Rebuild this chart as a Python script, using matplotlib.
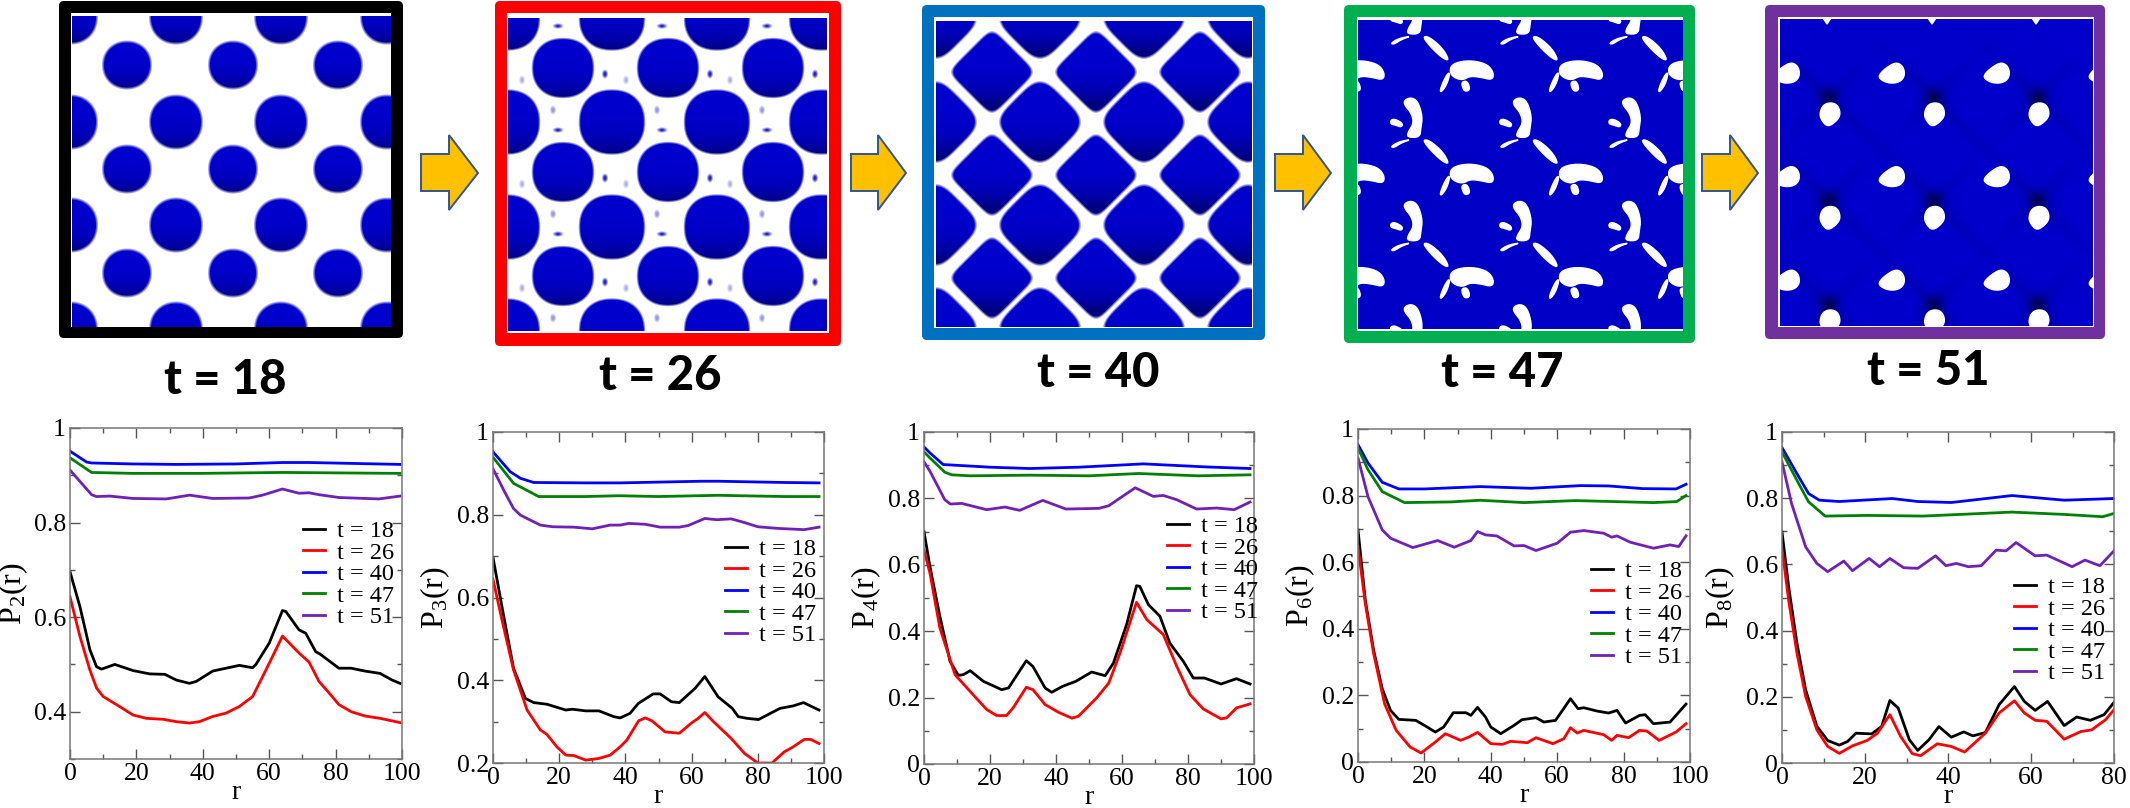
import matplotlib
matplotlib.use("Agg")
import matplotlib.pyplot as plt
from matplotlib.patches import FancyBboxPatch, Polygon, Rectangle
from matplotlib.ticker import MultipleLocator, FormatStrFormatter
import numpy as np

plt.rcParams['font.family'] = ['Liberation Serif', 'DejaVu Serif']
plt.rcParams['mathtext.fontset'] = 'custom'
plt.rcParams['mathtext.rm'] = 'Liberation Serif'

W, H = 2130, 808

times = ['t = 18', 't = 26', 't = 40', 't = 47', 't = 51']
line_colors = ['#000000', '#ff0000', '#0000ff', '#008000', '#7020b8']

# ---- P2(r)
p2_r_18 = [0, 3, 6, 8, 9.5, 13.5, 19, 24, 28.6, 32, 36, 38, 43, 47, 51, 55, 56, 60, 64, 65, 69, 71, 74, 75.3, 81, 84.7, 88.8, 93.4, 97, 99.4]
p2_v_18 = [.696, .622, .531, .495, .49, .50, .487, .48, .479, .467, .46, .464, .486, .492, .498, .493, .5, .545, .614, .612, .573, .566, .527, .522, .492, .492, .486, .481, .467, .46]
p2_r_26 = [0, 3, 6, 8, 10, 14, 19, 23, 28, 32, 36, 39, 43, 47, 51, 55, 59, 64, 69, 72, 75, 78, 81, 84.7, 88.8, 93.4, 99.4]
p2_v_26 = [.643, .559, .488, .45, .432, .415, .393, .386, .384, .379, .376, .379, .39, .397, .411, .432, .488, .56, .524, .505, .464, .44, .415, .40, .391, .386, .377]
p2_r_40 = [0, 5, 6.5, 19, 32, 50, 64, 72, 99.4]
p2_v_40 = [.951, .928, .926, .924, .923, .924, .927, .927, .923]
p2_r_47 = [0, 6.5, 19, 39, 64, 99.4]
p2_v_47 = [.937, .906, .904, .904, .906, .904]
p2_r_51 = [0, 6.5, 8, 12, 19, 29, 36, 43, 54, 58, 64, 69, 72, 75, 81, 93, 99.4]
p2_v_51 = [.911, .859, .855, .856, .851, .85, .858, .851, .852, .858, .871, .862, .863, .859, .853, .85, .856]

# ---- P3(r)
p3_r_18 = [0, 2.7, 6.2, 9.8, 12.3, 16.3, 22, 24, 28, 32, 36.5, 38.4, 41.4, 43.9, 48.4, 50.5, 53.9, 56.3, 61, 64, 68, 72.3, 74.1, 76.7, 80.2, 86.7, 90.7, 93.8, 98.5]
p3_v_18 = [.697, .578, .429, .356, .346, .342, .328, .33, .326, .326, .312, .309, .32, .344, .367, .367, .348, .346, .38, .409, .36, .332, .312, .308, .305, .332, .338, .346, .328]
p3_r_26 = [0, 2.7, 6.2, 10.3, 14.3, 16.3, 19.3, 22, 24.4, 28, 32, 35.4, 38.4, 40.4, 44, 46, 48, 52, 56.3, 60, 62, 64, 66.6, 72, 76, 80, 84.3, 88, 90.7, 94, 96, 98.5]
p3_v_26 = [.644, .546, .425, .328, .28, .269, .239, .219, .218, .207, .211, .219, .239, .255, .302, .309, .302, .275, .272, .297, .308, .322, .30, .259, .223, .2, .2, .227, .239, .257, .257, .247]
p3_r_40 = [0, 5.2, 8.3, 12.3, 28, 38.4, 63, 68, 88, 98.5]
p3_v_40 = [.952, .904, .888, .878, .877, .877, .881, .881, .878, .877]
p3_r_47 = [0, 6.2, 13.8, 28, 38, 50, 68, 88, 98.5]
p3_v_47 = [.939, .876, .844, .844, .846, .844, .847, .844, .844]
p3_r_51 = [0, 3.2, 6.2, 8.3, 14.3, 18, 24.4, 30, 35.4, 38.4, 41, 46, 50.5, 56.3, 59, 64, 67.6, 72, 75.6, 80, 86, 94, 98.5]
p3_v_51 = [.911, .86, .815, .799, .775, .771, .77, .766, .775, .775, .779, .777, .77, .77, .774, .791, .788, .79, .782, .771, .767, .764, .77]

# ---- P4(r)
p4_r_18 = [0, 1.8, 4.8, 7.9, 10.4, 11.9, 14, 18, 23.5, 25.6, 31, 33, 36.7, 38.7, 42, 46, 50.8, 54.9, 57.4, 61.4, 64.4, 65.4, 68, 71.5, 74.5, 78.6, 81.6, 85, 90, 94.7, 98.8]
p4_v_18 = [.70, .595, .445, .309, .267, .269, .281, .249, .224, .229, .311, .294, .229, .216, .234, .249, .277, .266, .304, .42, .537, .535, .48, .445, .364, .309, .259, .259, .241, .257, .241]
p4_r_26 = [0, 1.8, 4.8, 9.4, 14.4, 19, 22, 25, 27, 31, 33, 36.7, 40.7, 44.8, 46.8, 52.3, 56, 59.4, 64.4, 67.5, 72.5, 76.6, 80.6, 84.6, 90, 91.7, 94.7, 98.8]
p4_v_26 = [.645, .575, .41, .269, .214, .164, .146, .146, .169, .231, .224, .179, .156, .138, .144, .199, .244, .334, .487, .435, .39, .294, .209, .166, .136, .139, .169, .181]
p4_r_40 = [0, 1.8, 5.8, 20, 32, 47, 66.5, 85, 98.8]
p4_v_40 = [.955, .937, .902, .894, .89, .894, .904, .895, .89]
p4_r_47 = [0, 1.8, 6.3, 8.4, 14, 32, 50, 65, 83, 98.8]
p4_v_47 = [.94, .922, .879, .871, .868, .87, .868, .875, .868, .871]
p4_r_51 = [0, 1.8, 6.3, 8, 11.4, 19, 24.5, 29, 36, 43, 53, 56, 64, 69.5, 72.5, 76.6, 82.6, 88.7, 94, 98.8]
p4_v_51 = [.91, .882, .796, .783, .785, .766, .774, .764, .794, .768, .77, .778, .832, .806, .809, .796, .768, .771, .766, .789]

# ---- P6(r)
p6_r_18 = [0, 2.2, 4.7, 7.3, 9.8, 12.3, 17.4, 20, 23.3, 25.8, 28.7, 32.5, 34, 36, 38.4, 40, 43, 47, 49.4, 53.6, 56, 59.5, 64, 66.3, 68, 72, 75.5, 78, 80.6, 84.8, 86.5, 89, 94, 98.8]
p6_v_18 = [.697, .486, .336, .22, .155, .128, .125, .11, .09, .105, .148, .148, .14, .164, .135, .105, .085, .11, .127, .133, .12, .125, .19, .16, .163, .153, .147, .155, .117, .14, .142, .115, .12, .174]
p6_r_26 = [0, 2.2, 4.7, 8, 11.5, 15.7, 19, 23.3, 26.3, 30.9, 33.4, 36, 40, 43.5, 46, 51, 53.6, 58.7, 62, 64, 66, 68, 74, 76.4, 78, 81.5, 84.8, 87, 90.7, 95.8, 98.8]
p6_v_26 = [.647, .476, .326, .175, .095, .045, .027, .06, .085, .065, .075, .089, .055, .053, .062, .058, .073, .055, .07, .103, .087, .095, .082, .065, .08, .073, .095, .093, .065, .09, .115]
p6_r_40 = [0, 3, 7.3, 12.3, 20, 36.8, 52, 67, 75.5, 85.7, 95.8, 98.8]
p6_v_40 = [.953, .898, .84, .82, .82, .827, .822, .83, .829, .821, .82, .834]
p6_r_47 = [0, 3, 7.3, 14, 28, 36.8, 50, 65.4, 89, 96, 98.8]
p6_v_47 = [.943, .878, .812, .779, .781, .786, .779, .785, .779, .782, .8]
p6_r_51 = [0, 3, 7.3, 9.8, 16.5, 24, 29, 34, 36, 38.4, 41.8, 47, 50, 53.6, 60, 64, 68, 74, 76.4, 78, 82, 89, 94, 96.6, 98.8]
p6_v_51 = [.913, .797, .697, .672, .644, .665, .645, .665, .692, .682, .679, .649, .65, .635, .657, .69, .695, .687, .675, .679, .66, .642, .652, .647, .679]

# ---- P8(r)
p8_r_18 = [0, 1.6, 3.6, 5.7, 8.4, 11, 13.8, 15.8, 17.8, 21.6, 24, 26, 28, 30.7, 32.7, 35.4, 37.8, 40.8, 43.8, 46, 49, 52.3, 56, 58.4, 61, 64, 68, 71, 74.3, 77.6, 80]
p8_v_18 = [.698, .533, .362, .221, .111, .068, .054, .065, .09, .088, .11, .189, .166, .07, .038, .07, .11, .078, .094, .082, .092, .176, .231, .186, .159, .186, .113, .139, .129, .146, .183]
p8_r_26 = [0, 1.6, 3.6, 5.7, 8.4, 11, 13.8, 17, 20.5, 23, 26, 28.6, 31.4, 33.4, 37.4, 40.8, 44, 49, 52.3, 56, 58.4, 61, 63.8, 68, 72, 74.6, 78, 80]
p8_v_26 = [.648, .492, .332, .201, .1, .05, .029, .052, .068, .09, .146, .08, .028, .022, .058, .05, .033, .09, .151, .188, .151, .129, .126, .072, .095, .1, .131, .161]
p8_r_40 = [0, 3.6, 6.4, 9, 13.8, 26.6, 32.7, 40.8, 55.4, 68, 80]
p8_v_40 = [.953, .874, .814, .794, .79, .799, .79, .787, .808, .794, .799]
p8_r_47 = [0, 3.6, 6.4, 10.4, 20.5, 34, 55.4, 68, 77.3, 80]
p8_v_47 = [.94, .854, .789, .746, .748, .746, .758, .751, .744, .754]
p8_r_51 = [0, 2.3, 5.7, 8.4, 11, 14.9, 17, 21, 23.5, 26, 29.3, 32.7, 37, 39.5, 42, 44.9, 48, 51.6, 54, 56.4, 61, 63.8, 69.9, 73, 76.6, 80]
p8_v_51 = [.91, .784, .653, .603, .578, .61, .581, .618, .593, .618, .59, .588, .626, .596, .603, .593, .596, .643, .641, .666, .626, .628, .593, .613, .596, .641]

# ---- snapshot lattices, figure pixels
snap1_big_x = [71, 176, 281, 387]
snap1_big_y = [17, 122, 225, 329]
snap1_small_x = [127, 233, 338]
snap1_small_y = [65, 169, 273]

snap2_big_x = [507, 612, 717, 822]
snap2_big_y = [18, 122, 227, 331]
snap2_small_x = [563, 668, 773]
snap2_small_y = [68, 172, 276]
snap2_spec_x = [500, 605, 710, 815, 522, 626, 730, 553, 657, 762, 558, 662, 767]
snap2_spec_s = [.85, .85, .85, .85, .3, .3, .3, .4, .4, .4, .85, .85, .85]
snap2_spec_y0 = [74, 74, 74, 74, 80, 80, 80, 6, 6, 6, 26, 26, 26]

snap3_big_x = [936, 1040, 1144, 1248]
snap3_big_y = [18, 122, 225, 328]
snap3_small_x = [992, 1096, 1200]
snap3_small_y = [72, 175, 278]

# white islands of the t = 47 snapshot, one repeat of the pattern
snap4_islands = [
    [(245, 300), (258, 292), (270, 305), (278, 350), (275, 385), (273, 412), (250, 412), (252, 395), (262, 370), (258, 340), (245, 315)],
    [(220, 360), (228, 357), (242, 370), (240, 382), (228, 375), (220, 372)],
    [(220, 130), (235, 115), (258, 108), (240, 118), (226, 133)],
    [(278, 110), (290, 110), (315, 145), (327, 182), (315, 175), (295, 145)],
    [(330, 195), (350, 183), (375, 183), (398, 195), (408, 220), (405, 240), (385, 232), (365, 228), (352, 240), (338, 235), (328, 220)],
    [(325, 218), (328, 222), (322, 255), (312, 277), (310, 270), (317, 240)],
    [(350, 245), (360, 243), (365, 270), (355, 275), (350, 258)],
]

# teardrops of the t = 51 snapshot
snap5_drop_a = [(1140, 187), (1152, 195), (1157, 215), (1155, 235), (1145, 248), (1128, 250), (1112, 238), (1110, 225), (1122, 205)]
snap5_drop_b = [(1022, 307), (1035, 315), (1040, 340), (1035, 360), (1017, 382), (1005, 360), (1002, 340), (1008, 315)]
snap5_notch_x = [1827, 1932, 2036]

# outer box, inner box, colour
frames = [
    ((59, 1, 403, 338), (71, 13, 391, 327), '#000000'),
    ((495, 1, 841, 346), (507, 13, 829, 333), '#ff0000'),
    ((922, 5, 1265, 340), (934, 17, 1253, 328), '#0070c0'),
    ((1344, 5, 1695, 343), (1357, 17, 1683, 331), '#00b050'),
    ((1765, 5, 2105, 339), (1778, 17, 2094, 327), '#7030a0'),
]
arrows = [(421, 449, 478), (851, 878, 906), (1275, 1303, 1331), (1702, 1730, 1758)]
title_pos = [(225, 380), (660, 376), (1098, 373), (1502, 373), (1928, 371)]


def field_grid(box):
    yy, xx = np.mgrid[box[1]:box[3], box[0]:box[2]]
    return xx + 0.5, yy + 0.5


def soft_blobs(box, blobs, edge=3.0):
    # blobs: (cx, cy, rx, ry, power, rotated, strength)
    xx, yy = field_grid(box)
    cover = np.zeros(xx.shape)
    shade = np.zeros(xx.shape)
    for cx, cy, rx, ry, n, rot, s in blobs:
        dx = (xx - cx) / rx
        dy = (yy - cy) / ry
        if rot:
            u, v = (dx + dy) / np.sqrt(2), (dx - dy) / np.sqrt(2)
        else:
            u, v = dx, dy
        level = (np.abs(u) ** n + np.abs(v) ** n) ** (1.0 / n)
        c = np.clip((1 - level) * min(rx, ry) / edge + 0.5, 0, 1) * s
        take = c > cover
        cover[take] = c[take]
        shade[take] = np.clip(dy[take] * 0.5 + 0.5, 0, 1)
    blue = (205 - 75 * shade ** 4) / 255.0
    img = np.ones(xx.shape + (3,))
    img[..., 0] = 1 - cover
    img[..., 1] = 1 - cover
    img[..., 2] = (1 - cover) + cover * blue
    return img


def chaikin(pts, rounds=2):
    pts = np.array(pts, dtype=float)
    for _ in range(rounds):
        nxt = np.roll(pts, -1, axis=0)
        pts = np.column_stack([0.75 * pts + 0.25 * nxt, 0.25 * pts + 0.75 * nxt]).reshape(-1, 2)
    return pts


def show_field(ax, box, img):
    ax.imshow(img, extent=(box[0], box[2], box[3], box[1]), aspect='auto',
              interpolation='bilinear', zorder=3)


def white_shape(ax, pts, box):
    p = Polygon(pts, closed=True, fc='white', ec='white', lw=1.0, zorder=4)
    ax.add_patch(p)
    p.set_clip_path(Rectangle((box[0], box[1]), box[2] - box[0], box[3] - box[1], transform=ax.transData))


fig = plt.figure(figsize=(W / 100, H / 100), dpi=100)
bg = fig.add_axes([0, 0, 1, 1])
bg.axis('off')

for outer, inner, col in frames:
    bg.add_patch(FancyBboxPatch((outer[0], outer[1]), outer[2] - outer[0], outer[3] - outer[1],
                                boxstyle='round,pad=0,rounding_size=5', fc=col, ec='none', zorder=1))
    bg.add_patch(Rectangle((inner[0], inner[1]), inner[2] - inner[0], inner[3] - inner[1],
                           fc='white', ec='none', zorder=2))

# t = 18
box1 = (72, 16, 391, 327)
blobs = []
for x in snap1_big_x:
    for y in snap1_big_y:
        blobs.append((x, y, 26, 26.5, 2.1, False, 1))
for x in snap1_small_x:
    for y in snap1_small_y:
        blobs.append((x, y, 24, 23.5, 2.1, False, 1))
show_field(bg, box1, soft_blobs(box1, blobs))

# t = 26
box2 = (508, 18, 827, 331)
blobs = []
for x in snap2_big_x:
    for y in snap2_big_y:
        blobs.append((x, y, 32.5, 32, 2.25, False, 1))
for x in snap2_small_x:
    for y in snap2_small_y:
        blobs.append((x, y, 30.5, 29.5, 2.2, False, 1))
for x, s, y0 in zip(snap2_spec_x, snap2_spec_s, snap2_spec_y0):
    for k in range(4):
        y = y0 + k * 104
        wide = y0 == 26
        blobs.append((x, y, 3.5 if wide else 2.2, 1.8 if wide else 3.2, 2, False, s))
show_field(bg, box2, soft_blobs(box2, blobs, edge=2.4))

# t = 40
box3 = (936, 21, 1252, 327)
blobs = []
for x in snap3_big_x:
    for y in snap3_big_y:
        blobs.append((x, y, 33.5, 33.5, 4.0, True, 1))
for x in snap3_small_x:
    for y in snap3_small_y:
        blobs.append((x, y, 31, 31, 7.0, True, 1))
show_field(bg, box3, soft_blobs(box3, blobs, edge=2.6))

# t = 47
box4 = (1358, 20, 1683, 329)
xx, yy = field_grid(box4)
cell = np.full(xx.shape, 9.0)
cell_shade = np.zeros(xx.shape)
for i in range(-1, 5):
    for j in range(-1, 5):
        for cx, cy in ((1356 + 109 * i, 13 + 103.5 * j), (1410 + 109 * i, 65 + 103.5 * j)):
            d = np.hypot(xx - cx, yy - cy) / 62.0
            take = d < cell
            cell[take] = d[take]
            cell_shade[take] = np.clip(((yy - cy) / 62.0)[take] * 0.5 + 0.5, 0, 1)
blue4 = (200 - 55 * np.clip(cell, 0, 1) ** 6 * cell_shade) / 255.0
show_field(bg, box4, np.dstack([np.zeros(xx.shape), np.zeros(xx.shape), blue4]))
for i in range(-1, 3):
    for j in range(-1, 3):
        for isl in snap4_islands:
            pts = chaikin(isl)
            px = 1270 + (pts[:, 0] + 199 * i) / 1.823
            py = (pts[:, 1] + 310 * j) / 3.0
            white_shape(bg, np.column_stack([px, py]), box4)

# t = 51
box5 = (1780, 19, 2093, 326)
xx, yy = field_grid(box5)
dark = np.zeros(xx.shape)
for cx in [1829, 1934, 2038]:
    for cy in [98, 201, 305]:
        dx, dy = xx - cx, yy - cy
        dark += 80 * np.exp(-(dx ** 2 + dy ** 2) / (2 * 7.0 ** 2))
        dark += 22 * np.exp(-((dx - dy) ** 2) / (2 * 6.0 ** 2) - ((dx + dy) ** 2) / (2 * 60.0 ** 2))
        dark += 15 * np.exp(-((dx + dy) ** 2) / (2 * 6.0 ** 2) - ((dx - dy) ** 2) / (2 * 45.0 ** 2))
blue5 = np.clip(203 - dark, 40, 255) / 255.0
show_field(bg, box5, np.dstack([np.zeros(xx.shape), np.zeros(xx.shape), blue5]))
drop_a = chaikin(snap5_drop_a)
drop_b = chaikin(snap5_drop_b)
drop_a_px = np.column_stack([1270 + drop_a[:, 0] / 1.823, drop_a[:, 1] / 3.0])
drop_b_px = np.column_stack([1270 + drop_b[:, 0] / 1.823, drop_b[:, 1] / 3.0])
for k in range(-1, 3):
    for j in range(3):
        white_shape(bg, drop_a_px + [105 * k, 103.5 * j], box5)
for k in range(3):
    for j in range(3):
        white_shape(bg, drop_b_px + [104.5 * k, 103.5 * j], box5)
for x in snap5_notch_x:
    white_shape(bg, [(x - 4, 18), (x + 4, 18), (x, 24)], (x - 5, 17, x + 5, 25))

for x0, xh, x1 in arrows:
    pts = [(x0, 154), (xh, 154), (xh, 135), (x1, 173), (xh, 210), (xh, 191), (x0, 191)]
    bg.add_patch(Polygon(pts, closed=True, fc='#ffc000', ec='#2f5597', lw=1.4, zorder=3))

for label, (x, y) in zip(times, title_pos):
    bg.text(x, y, label, ha='center', va='center', family=['Lato', 'DejaVu Sans'],
            fontweight='black', fontsize=34, color='black', zorder=5)

bg.set_xlim(0, W)
bg.set_ylim(H, 0)

# chart boxes in pixels: left, right, top, bottom
chart_boxes = [(70, 402, 428, 759), (493, 824, 432, 763), (924, 1254, 432, 764),
               (1358, 1690, 429, 762), (1782, 2114, 432, 763)]
chart_ylow = [0.3, 0.2, 0, 0, 0]
chart_xhigh = [100, 100, 100, 100, 80]
chart_names = ['2', '3', '4', '6', '8']
chart_rs = [[p2_r_18, p2_r_26, p2_r_40, p2_r_47, p2_r_51],
            [p3_r_18, p3_r_26, p3_r_40, p3_r_47, p3_r_51],
            [p4_r_18, p4_r_26, p4_r_40, p4_r_47, p4_r_51],
            [p6_r_18, p6_r_26, p6_r_40, p6_r_47, p6_r_51],
            [p8_r_18, p8_r_26, p8_r_40, p8_r_47, p8_r_51]]
chart_vs = [[p2_v_18, p2_v_26, p2_v_40, p2_v_47, p2_v_51],
            [p3_v_18, p3_v_26, p3_v_40, p3_v_47, p3_v_51],
            [p4_v_18, p4_v_26, p4_v_40, p4_v_47, p4_v_51],
            [p6_v_18, p6_v_26, p6_v_40, p6_v_47, p6_v_51],
            [p8_v_18, p8_v_26, p8_v_40, p8_v_47, p8_v_51]]
legend_xy = [(303, 520), (725, 538), (1167, 515), (1591, 560), (2014, 576)]
ylabel_x = [30, 452, 883, 1317, 1737]

for i in range(5):
    l, r, t, b = chart_boxes[i]
    ax = fig.add_axes([l / W, 1 - b / H, (r - l) / W, (b - t) / H])
    ax.patch.set_alpha(0)
    for rs, vs, col, lab in zip(chart_rs[i], chart_vs[i], line_colors, times):
        ax.plot(rs, vs, color=col, lw=2.0, label=lab)
    ax.set_xlim(0, chart_xhigh[i])
    ax.set_ylim(chart_ylow[i], 1)
    ax.xaxis.set_major_locator(MultipleLocator(20))
    ax.xaxis.set_minor_locator(MultipleLocator(10))
    ax.yaxis.set_major_locator(MultipleLocator(0.2))
    ax.yaxis.set_minor_locator(MultipleLocator(0.1))
    ax.yaxis.set_major_formatter(FormatStrFormatter('%g'))
    ax.tick_params(which='both', direction='in', top=True, right=True, color='#555555', width=1.0)
    ax.tick_params(which='major', length=7.2, labelsize=18.5, pad=3)
    ax.tick_params(which='minor', length=3.8)
    if i == 0:
        ax.set_yticks([0.4, 0.6, 0.8, 1.0])
    for s in ax.spines.values():
        s.set_color('#777777')
        s.set_linewidth(1.1)
    ax.set_xlabel('r', fontsize=20, labelpad=-4)
    ax.set_ylabel(r'$\mathrm{P_{%s}(r)}$' % chart_names[i], fontsize=23)
    ax.yaxis.set_label_coords((ylabel_x[i] - l) / (r - l), 0.5)
    ax.legend(frameon=False, loc='upper left', bbox_to_anchor=legend_xy[i], bbox_transform=bg.transData,
              fontsize=17.5, borderpad=0, borderaxespad=0, handlelength=0.9, handletextpad=0.5,
              labelspacing=-0.02)

fig.savefig('out.png', dpi=100)
